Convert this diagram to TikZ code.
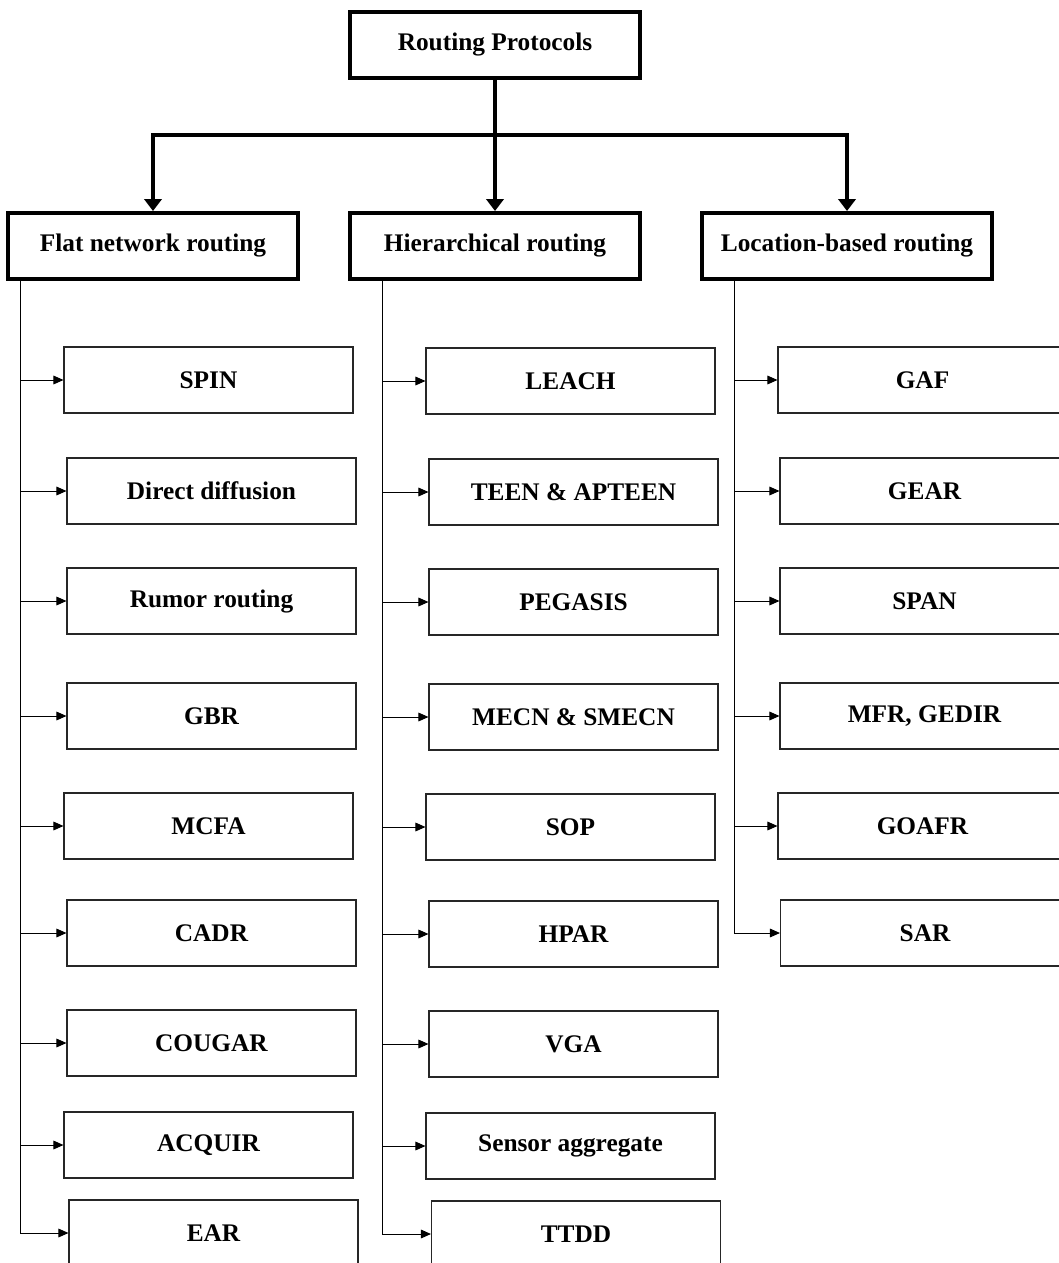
\documentclass[tikz,border=0pt]{standalone}
\usepackage{fontspec}
\setmainfont{Liberation Serif}
\usetikzlibrary{arrows.meta}
\begin{document}
\begin{tikzpicture}[x=0.75pt,y=-0.75pt,
  font=\fontsize{19pt}{22pt}\selectfont\bfseries,
  mainbox/.style={draw, line width=3pt, minimum width=217.5pt, minimum height=49.5pt, inner sep=0pt},
  subbox/.style={draw=black!85, line width=0.8pt, minimum width=216.75pt, minimum height=49.5pt, inner sep=0pt},
  bigarr/.style={line width=3pt, -{Triangle[length=9pt,width=13pt]}},
  smallarr/.style={line width=0.75pt, draw=black, -{Triangle[length=7.5pt,width=6.5pt]}}
]
\useasboundingbox (0,0) rectangle (1059,1263);
\clip (0,0) rectangle (1059,1263);

% top level
\node[mainbox] (head) at (495,45) {Routing Protocols};
\node[mainbox] (flat) at (153,246) {Flat network routing};
\node[mainbox] (hier) at (495,246) {Hierarchical routing};
\node[mainbox] (loc)  at (847,246) {Location-based routing};

\coordinate (bus) at (495,135);
\draw[line width=3pt] (head.south) -- (bus);
\draw[bigarr] (bus) -| (flat.north);
\draw[bigarr] (bus) -| (loc.north);
\draw[bigarr] (bus) -- (hier.north);

% flat children
\node[subbox] (f1) at (208.5,380) {SPIN};
\node[subbox] (f2) at (211.5,491) {Direct diffusion};
\node[subbox] (f3) at (211.5,601) {Rumor routing};
\node[subbox] (f4) at (211.5,716) {GBR};
\node[subbox] (f5) at (208.5,826) {MCFA};
\node[subbox] (f6) at (211.5,933) {CADR};
\node[subbox] (f7) at (211.5,1043) {COUGAR};
\node[subbox] (f8) at (208.5,1145) {ACQUIR};
\node[subbox] (f9) at (213.5,1233) {EAR};

% hierarchical children
\node[subbox] (h1) at (570.5,381) {LEACH};
\node[subbox] (h2) at (573.5,492) {TEEN \& APTEEN};
\node[subbox] (h3) at (573.5,602) {PEGASIS};
\node[subbox] (h4) at (573.5,717) {MECN \& SMECN};
\node[subbox] (h5) at (570.5,827) {SOP};
\node[subbox] (h6) at (573.5,934) {HPAR};
\node[subbox] (h7) at (573.5,1044) {VGA};
\node[subbox] (h8) at (570.5,1146) {Sensor aggregate};
\node[subbox] (h9) at (576,1234) {TTDD};

% location children
\node[subbox] (l1) at (922.5,380) {GAF};
\node[subbox] (l2) at (924.5,491) {GEAR};
\node[subbox] (l3) at (924.5,601) {SPAN};
\node[subbox] (l4) at (924.5,716) {MFR, GEDIR};
\node[subbox] (l5) at (922.5,826) {GOAFR};
\node[subbox] (l6) at (925,933) {SAR};

% trunks
\coordinate (ft) at (20,0);
\coordinate (ht) at (382,0);
\coordinate (lt) at (734,0);

\draw[smallarr] (ft |- flat.south) -- (ft |- f9.west) -- (f9.west);
\foreach \n in {f1,f2,f3,f4,f5,f6,f7,f8}
  \draw[smallarr] (ft |- \n.west) -- (\n.west);

\draw[smallarr] (ht |- hier.south) -- (ht |- h9.west) -- (h9.west);
\foreach \n in {h1,h2,h3,h4,h5,h6,h7,h8}
  \draw[smallarr] (ht |- \n.west) -- (\n.west);

\draw[smallarr] (lt |- loc.south) -- (lt |- l6.west) -- (l6.west);
\foreach \n in {l1,l2,l3,l4,l5}
  \draw[smallarr] (lt |- \n.west) -- (\n.west);
\end{tikzpicture}
\end{document}
